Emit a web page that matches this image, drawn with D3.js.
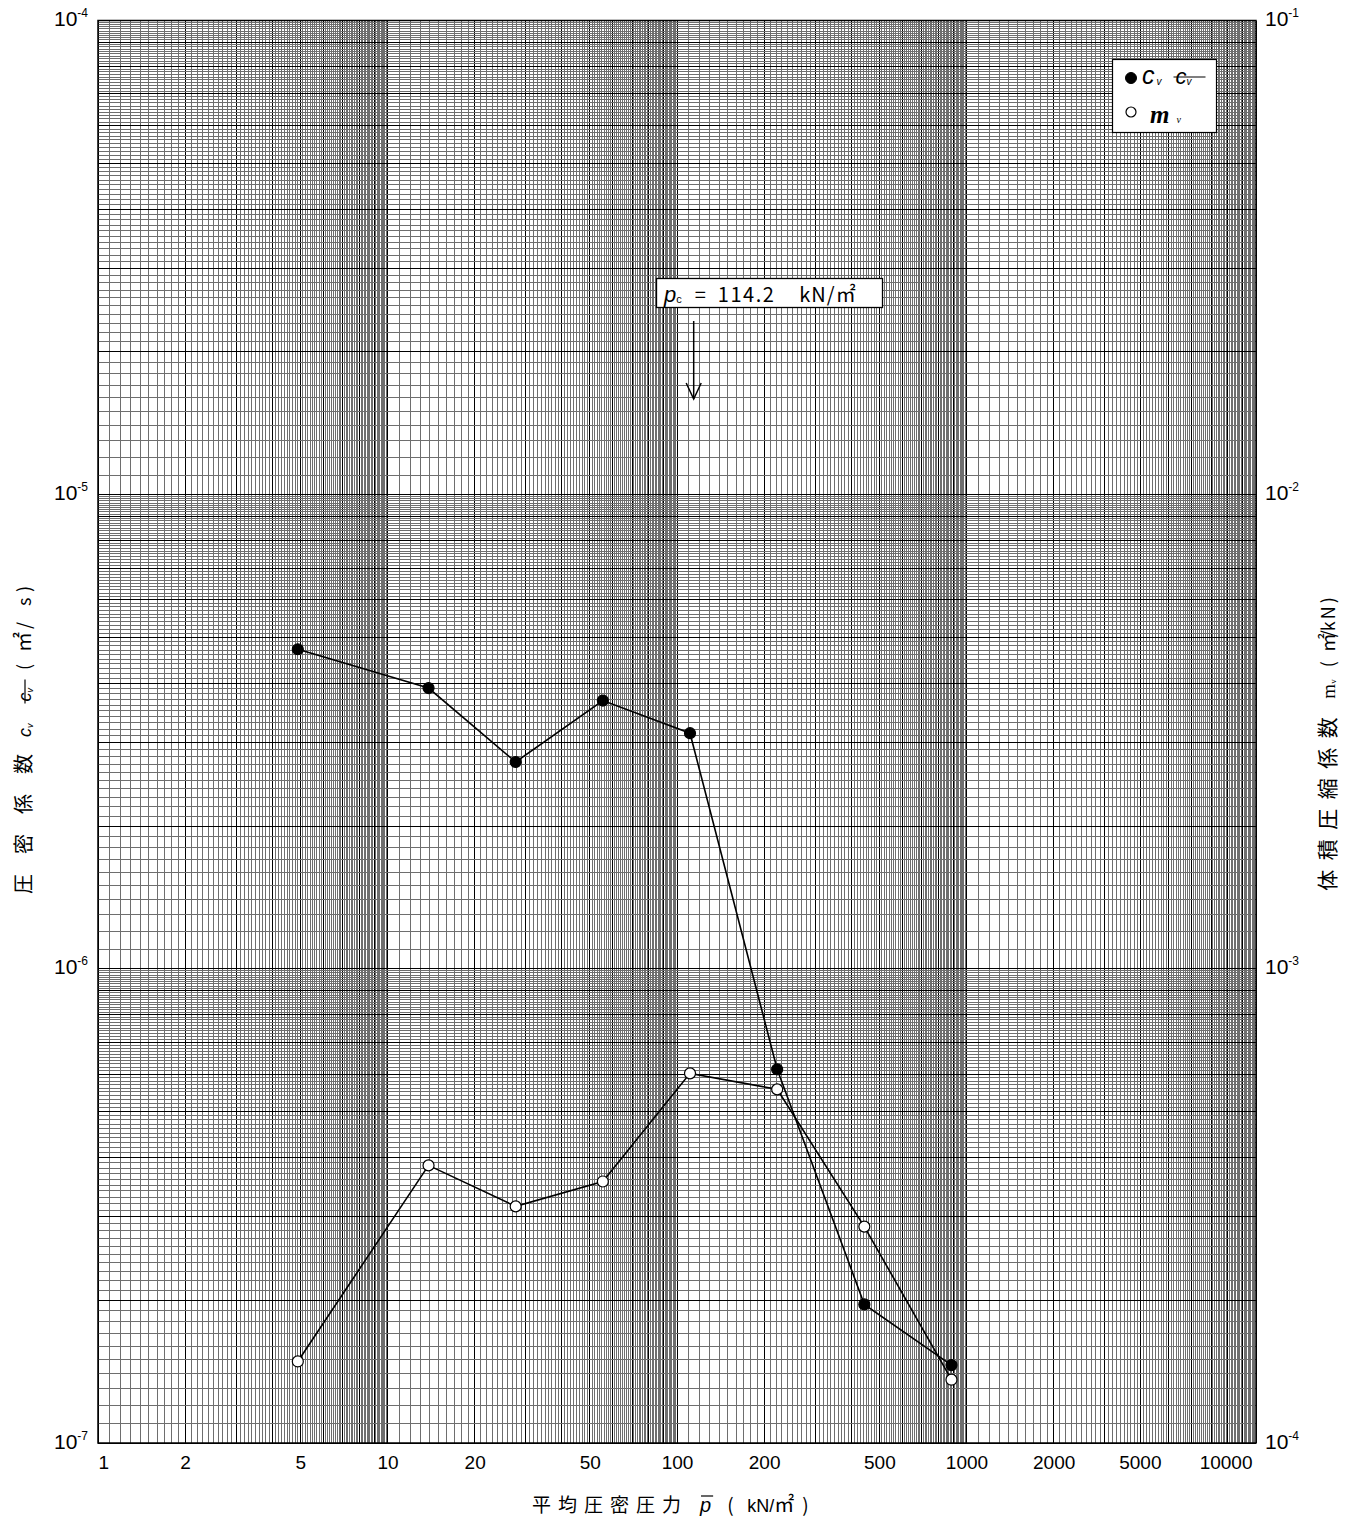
<!DOCTYPE html>
<html>
<head>
<meta charset="utf-8">
<script src="https://cdn.jsdelivr.net/npm/d3@7"></script>
<style>
body { margin: 0; background: #fff; }
</style>
</head>
<body>
<svg id="chart" width="1358" height="1525"></svg>
<script>
// mean consolidation pressure (kN/m2) and coefficients
var pressure = [4.9, 13.86, 27.72, 55.44, 110.9, 221.8, 443.7, 887.3];
var cvValues = [4.72e-6, 3.91e-6, 2.73e-6, 3.68e-6, 3.14e-6, 6.14e-7, 1.96e-7, 1.46e-7];
var mvValues = [1.486e-4, 3.85e-4, 3.155e-4, 3.56e-4, 6.02e-4, 5.57e-4, 2.86e-4, 1.36e-4];
var xTicks = [1, 2, 5, 10, 20, 50, 100, 200, 500, 1000, 2000, 5000, 10000];
var cvTicks = [1e-4, 1e-5, 1e-6, 1e-7];
var mvTicks = [1e-1, 1e-2, 1e-3, 1e-4];
var pc = 114.2;

var SANS = "'Liberation Sans', Arial, sans-serif",
	SERIF = "'Liberation Serif', 'Times New Roman', serif",
	CJK = "'Noto Sans CJK JP', sans-serif";

var _margin = {top: 20.5, right: 102, bottom: 82, left: 98},
	_width = 1358 - _margin.left - _margin.right,
	_height = 1525 - _margin.top - _margin.bottom;

var _svg = d3.select("#chart");
var _container = _svg.append("g")
	.attr("transform", "translate(" + _margin.left + "," + _margin.top + ")");

var _x = d3.scaleLog().domain([1, 10000]).range([0, _width]);
var _yL = d3.scaleLog().domain([1e-4, 1e-7]).range([0, _height]);
var _yR = d3.scaleLog().domain([1e-1, 1e-4]).range([0, _height]);

// semi-log paper: a line every 0.1 of each decade
function paperLines(scale) {
	var d = scale.domain(), lo = Math.min(d[0], d[1]), hi = Math.max(d[0], d[1]);
	var out = [];
	for (var e = Math.round(Math.log10(lo)); e < Math.round(Math.log10(hi)); e++) {
		for (var i = 10; i < 100; i++) {
			out.push({v: i / 10 * Math.pow(10, e), major: i % 10 === 0});
		}
	}
	out.push({v: hi, major: true});
	return out;
}

var grid = _container.append("g").attr("class", "grid").style("shape-rendering", "crispEdges");
grid.selectAll(".vx").data(paperLines(_x)).enter().append("line")
	.attr("x1", function(d) { return _x(d.v); })
	.attr("x2", function(d) { return _x(d.v); })
	.attr("y1", 0).attr("y2", _height)
	.style("stroke", function(d) { return d.major ? "#000" : "#6e6e6e"; })
	.style("stroke-width", 1);
grid.selectAll(".hy").data(paperLines(_yL)).enter().append("line")
	.attr("y1", function(d) { return _yL(d.v); })
	.attr("y2", function(d) { return _yL(d.v); })
	.attr("x1", 0).attr("x2", _width)
	.style("stroke", function(d) { return d.major ? "#000" : "#6e6e6e"; })
	.style("stroke-width", 1);

_container.append("rect")
	.attr("width", _width).attr("height", _height)
	.style("fill", "none").style("stroke", "#000").style("stroke-width", 1.5);

// axes
var _xAxis = _container.append("g")
	.attr("transform", "translate(0," + _height + ")")
	.call(d3.axisBottom(_x).tickValues(xTicks).tickSize(0).tickPadding(13).tickFormat(d3.format("d")));
_xAxis.select(".domain").remove();
_xAxis.selectAll(".tick text")
	.style("font-family", SANS).style("font-size", "19px").style("fill", "#000")
	.attr("text-anchor", function(d) { return d === 1 ? "start" : d === 10000 ? "end" : "middle"; })
	.attr("dx", function(d) { return d === 5000 ? -29 : d === 10000 ? -4 : 0; });

function powerLabels(axis) {
	axis.select(".domain").remove();
	axis.selectAll(".tick text").each(function(d) {
		var t = d3.select(this).text(null)
			.attr("dy", null).attr("y", 5)
			.style("font-family", SANS).style("fill", "#000");
		t.append("tspan").style("font-size", "21px").text("10");
		t.append("tspan").style("font-size", "12px").attr("dy", -9)
			.text(String(Math.round(Math.log10(d))));
	});
}

var _yAxisL = _container.append("g")
	.call(d3.axisLeft(_yL).tickValues(cvTicks).tickSize(0).tickPadding(10));
powerLabels(_yAxisL);
var _yAxisR = _container.append("g")
	.attr("transform", "translate(" + _width + ",0)")
	.call(d3.axisRight(_yR).tickValues(mvTicks).tickSize(0).tickPadding(9));
powerLabels(_yAxisR);

// series
var _lineCv = d3.line()
	.x(function(d, i) { return _x(pressure[i]); })
	.y(function(d) { return _yL(d); });
var _lineMv = d3.line()
	.x(function(d, i) { return _x(pressure[i]); })
	.y(function(d) { return _yR(d); });

_container.append("path").datum(cvValues).attr("d", _lineCv)
	.style("fill", "none").style("stroke", "#000").style("stroke-width", 1.6);
_container.append("path").datum(mvValues).attr("d", _lineMv)
	.style("fill", "none").style("stroke", "#000").style("stroke-width", 1.6);

_container.selectAll(".cv").data(cvValues).enter().append("circle")
	.attr("cx", function(d, i) { return _x(pressure[i]); })
	.attr("cy", function(d) { return _yL(d); })
	.attr("r", 5.5)
	.style("fill", "#000").style("stroke", "#000").style("stroke-width", 1.2);
_container.selectAll(".mv").data(mvValues).enter().append("circle")
	.attr("cx", function(d, i) { return _x(pressure[i]); })
	.attr("cy", function(d) { return _yR(d); })
	.attr("r", 5.5)
	.style("fill", "#fff").style("stroke", "#000").style("stroke-width", 1.2);

// lays out text runs one after another; returns the total width
function runs(g, parts, x0, y0) {
	var x = x0;
	parts.forEach(function(p) {
		if (p.gap) { x += p.gap; return; }
		var t = g.append("text")
			.attr("x", x).attr("y", y0 + (p.dy || 0))
			.style("font-family", p.font || CJK)
			.style("font-size", (p.size || 19) + "px")
			.style("font-style", p.italic ? "italic" : "normal")
			.style("font-weight", p.bold ? "bold" : "normal")
			.style("letter-spacing", (p.ls || 0) + "px")
			.style("fill", "#000")
			.text(p.t);
		var w = t.node().getComputedTextLength();
		if (p.over) {
			g.append("line").attr("x1", x + 1).attr("x2", x + w + 2)
				.attr("y1", y0 - 16).attr("y2", y0 - 16)
				.style("stroke", "#000").style("stroke-width", 1.2);
		}
		if (p.strike) {
			g.append("line").attr("x1", x - 2).attr("x2", x + p.strike)
				.attr("y1", y0 + p.sy).attr("y2", y0 + p.sy)
				.style("stroke", "#000").style("stroke-width", 1.2);
		}
		x += (p.adv != null ? p.adv : w);
	});
	return x - x0;
}

function centred(parts, cx, cy, rot) {
	var g = _svg.append("g");
	var w = runs(g, parts, 0, 0);
	g.attr("transform", "translate(" + cx + "," + cy + ") rotate(" + rot + ") translate(" + (-w / 2) + ",0)");
	return g;
}

// axis titles
runs(_svg.append("g"), [
	{t: "平均圧密圧力", size: 19, ls: 7},
	{gap: 12},
	{t: "p", font: SANS, italic: true, size: 20, over: true},
	{gap: 16},
	{t: "(", size: 19, adv: 20},
	{t: "kN/", font: SANS, size: 18},
	{t: "㎡", size: 20},
	{gap: 8},
	{t: ")", size: 19}
], 532, 1512);

centred([
	{t: "圧密係数", size: 20, ls: 20},
	{gap: -3},
	{t: "c", font: SANS, italic: true, size: 18},
	{t: "v", font: SANS, italic: true, size: 9, dy: 2},
	{gap: 22},
	{t: "c", font: SANS, italic: true, size: 18, strike: 22, sy: -6},
	{t: "v", font: SANS, italic: true, size: 9, dy: 2},
	{gap: 18},
	{t: "(", size: 18, adv: 18},
	{t: "㎡", size: 20, adv: 23},
	{t: "/", size: 18, adv: 23},
	{t: "s", size: 18, adv: 14},
	{t: ")", size: 18, adv: 16}
], 31, 735, -90);

centred([
	{t: "体積圧縮係数", size: 21, ls: 9.5},
	{gap: 9},
	{t: "m", font: SERIF, size: 19},
	{t: "v", font: SERIF, size: 9, dy: 1},
	{gap: 12},
	{t: "(", size: 18, adv: 15},
	{t: "㎡", size: 19, adv: 15},
	{t: "/", size: 18, adv: 6},
	{t: "k", size: 18, adv: 12},
	{t: "N", size: 18, adv: 16},
	{t: ")", size: 18, adv: 14}
], 1335, 740, -90);

// pc annotation with arrow
var xp = _margin.left + _x(pc);
_svg.append("rect")
	.attr("x", 656.5).attr("y", 278.5).attr("width", 226).attr("height", 29)
	.style("fill", "#fff").style("stroke", "#000").style("stroke-width", 1.3);
var ann = _svg.append("g");
runs(ann, [
	{t: "p", font: SANS, italic: true, size: 22},
	{t: "c", font: SANS, size: 11, dy: 1},
	{gap: 13},
	{t: "=", font: CJK, size: 20},
	{gap: 12},
	{t: "114.2", font: CJK, size: 20, ls: 1.5},
	{gap: 24},
	{t: "kN/㎡", font: CJK, size: 20, ls: 1}
], 664, 302);
_svg.append("line")
	.attr("x1", xp).attr("x2", xp).attr("y1", 321).attr("y2", 399)
	.style("stroke", "#000").style("stroke-width", 1.5);
_svg.append("path")
	.attr("d", "M" + (xp - 7.5) + ",383 L" + xp + ",399 L" + (xp + 7.5) + ",383")
	.style("fill", "none").style("stroke", "#000").style("stroke-width", 1.5);

// legend
var lg = _svg.append("g");
lg.append("rect").attr("x", 1112.5).attr("y", 59.5).attr("width", 104).attr("height", 73)
	.style("fill", "#fff").style("stroke", "#000").style("stroke-width", 1.2);
lg.append("circle").attr("cx", 1131).attr("cy", 78).attr("r", 5.5)
	.style("fill", "#000").style("stroke", "#000");
lg.append("circle").attr("cx", 1131).attr("cy", 112).attr("r", 5)
	.style("fill", "#fff").style("stroke", "#000").style("stroke-width", 1.2);
runs(lg, [
	{t: "c", font: SANS, italic: true, size: 25},
	{gap: 2},
	{t: "v", font: SANS, italic: true, size: 10, dy: 1},
	{gap: 14},
	{t: "c", font: SANS, italic: true, size: 22, strike: 30, sy: -7},
	{t: "v", font: SANS, italic: true, size: 10, dy: 1}
], 1142, 84);
runs(lg, [
	{t: "m", font: SERIF, italic: true, bold: true, size: 25},
	{gap: 7},
	{t: "v", font: SERIF, italic: true, size: 10}
], 1150, 123);
</script>
</body>
</html>
